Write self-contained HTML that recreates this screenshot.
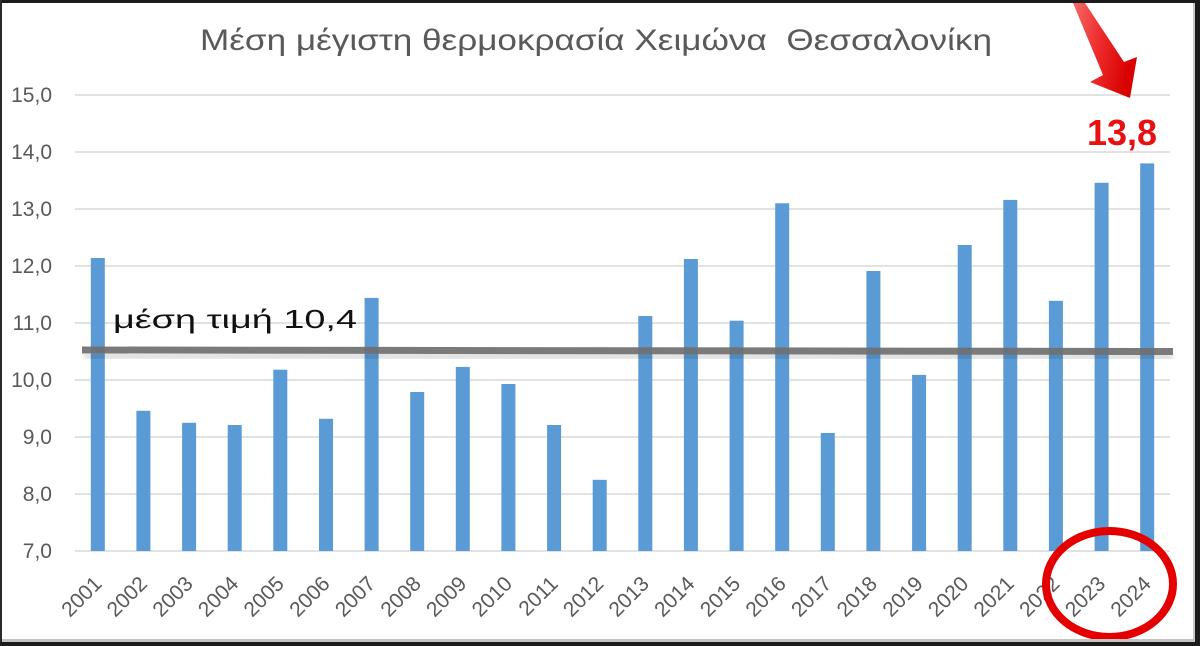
<!DOCTYPE html>
<html>
<head>
<meta charset="utf-8">
<style>
html,body{margin:0;padding:0;background:#fff;}
svg{display:block;}
text{font-family:"Liberation Sans","DejaVu Sans",sans-serif;}
</style>
</head>
<body>
<svg width="1200" height="646" viewBox="0 0 1200 646" xmlns="http://www.w3.org/2000/svg">
<defs>
<linearGradient id="ag" x1="0" y1="0" x2="1" y2="0.3">
<stop offset="0" stop-color="#f46a6a"/>
<stop offset="0.5" stop-color="#ee2a2a"/>
<stop offset="1" stop-color="#d80000"/>
</linearGradient>
<filter id="sh" x="-5%" y="-200%" width="110%" height="500%">
<feGaussianBlur stdDeviation="3"/>
</filter>
</defs>
<rect x="0" y="0" width="1200" height="646" fill="#fff"/>
<!-- gridlines -->
<g stroke="#d9d9d9" stroke-width="1.6">
<line x1="75" y1="95" x2="1170" y2="95"/>
<line x1="75" y1="152" x2="1170" y2="152"/>
<line x1="75" y1="209" x2="1170" y2="209"/>
<line x1="75" y1="266" x2="1170" y2="266"/>
<line x1="75" y1="323" x2="1170" y2="323"/>
<line x1="75" y1="380" x2="1170" y2="380"/>
<line x1="75" y1="437" x2="1170" y2="437"/>
<line x1="75" y1="494" x2="1170" y2="494"/>
<line x1="75" y1="551" x2="1170" y2="551"/>
</g>
<!-- y labels -->
<g fill="#595959" font-size="21" text-anchor="end">
<text x="52" y="102">15,0</text>
<text x="52" y="159">14,0</text>
<text x="52" y="216">13,0</text>
<text x="52" y="273">12,0</text>
<text x="52" y="330">11,0</text>
<text x="52" y="387">10,0</text>
<text x="52" y="444">9,0</text>
<text x="52" y="501">8,0</text>
<text x="52" y="558">7,0</text>
</g>
<!-- bars -->
<g fill="#5b9bd5">
<rect x="90.8" y="258" width="14" height="293"/>
<rect x="136.4" y="410.8" width="14" height="140.2"/>
<rect x="182.1" y="422.8" width="14" height="128.2"/>
<rect x="227.7" y="425" width="14" height="126"/>
<rect x="273.3" y="369.7" width="14" height="181.3"/>
<rect x="319.0" y="418.8" width="14" height="132.2"/>
<rect x="364.6" y="297.9" width="14" height="253.1"/>
<rect x="410.2" y="392" width="14" height="159"/>
<rect x="455.8" y="366.9" width="14" height="184.1"/>
<rect x="501.4" y="384" width="14" height="167"/>
<rect x="547.1" y="425" width="14" height="126"/>
<rect x="592.7" y="479.8" width="14" height="71.2"/>
<rect x="638.3" y="316" width="14" height="235"/>
<rect x="683.9" y="259" width="14" height="292"/>
<rect x="729.6" y="320.7" width="14" height="230.3"/>
<rect x="775.2" y="203.3" width="14" height="347.7"/>
<rect x="820.8" y="433" width="14" height="118"/>
<rect x="866.4" y="271" width="14" height="280"/>
<rect x="912.1" y="374.9" width="14" height="176.1"/>
<rect x="957.7" y="245" width="14" height="306"/>
<rect x="1003.3" y="199.9" width="14" height="351.1"/>
<rect x="1048.9" y="300.8" width="14" height="250.2"/>
<rect x="1094.6" y="182.8" width="14" height="368.2"/>
<rect x="1140.2" y="163.4" width="14" height="387.6"/>
</g>
<!-- x labels -->
<g fill="#595959" font-size="21" text-anchor="end">
<text transform="translate(103,585) rotate(-45)">2001</text>
<text transform="translate(148.4,585) rotate(-45)">2002</text>
<text transform="translate(194.1,585) rotate(-45)">2003</text>
<text transform="translate(239.7,585) rotate(-45)">2004</text>
<text transform="translate(285.3,585) rotate(-45)">2005</text>
<text transform="translate(331,585) rotate(-45)">2006</text>
<text transform="translate(376.6,585) rotate(-45)">2007</text>
<text transform="translate(422.2,585) rotate(-45)">2008</text>
<text transform="translate(467.8,585) rotate(-45)">2009</text>
<text transform="translate(513.4,585) rotate(-45)">2010</text>
<text transform="translate(559.1,585) rotate(-45)">2011</text>
<text transform="translate(604.7,585) rotate(-45)">2012</text>
<text transform="translate(650.3,585) rotate(-45)">2013</text>
<text transform="translate(695.9,585) rotate(-45)">2014</text>
<text transform="translate(741.6,585) rotate(-45)">2015</text>
<text transform="translate(787.2,585) rotate(-45)">2016</text>
<text transform="translate(832.8,585) rotate(-45)">2017</text>
<text transform="translate(878.4,585) rotate(-45)">2018</text>
<text transform="translate(924.1,585) rotate(-45)">2019</text>
<text transform="translate(969.7,585) rotate(-45)">2020</text>
<text transform="translate(1015.3,585) rotate(-45)">2021</text>
<text transform="translate(1060.9,585) rotate(-45)">2022</text>
<text transform="translate(1106.6,585) rotate(-45)">2023</text>
<text transform="translate(1152.2,585) rotate(-45)">2024</text>
</g>
<!-- average line -->
<line x1="84" y1="356" x2="1173" y2="357" stroke="#000" stroke-opacity="0.18" stroke-width="5" filter="url(#sh)"/>
<line x1="82" y1="350" x2="1173" y2="351.5" stroke="#6f6f6f" stroke-width="7" stroke-opacity="0.92"/>
<text x="113" y="328" font-size="26" fill="#111" textLength="244" lengthAdjust="spacingAndGlyphs">μέση τιμή 10,4</text>
<!-- title -->
<text x="200" y="50" font-size="30" fill="#595959" textLength="792" lengthAdjust="spacingAndGlyphs" style="white-space:pre">Μέση μέγιστη θερμοκρασία Χειμώνα  Θεσσαλονίκη</text>
<!-- red value -->
<text x="1087" y="145" font-size="36" font-weight="bold" fill="#e81010" textLength="70" lengthAdjust="spacingAndGlyphs">13,8</text>
<!-- arrow -->
<polygon points="1073,3 1085,3 1124,62 1137,57 1130,98 1090,82 1103,75" fill="url(#ag)"/>
<!-- circle -->
<ellipse cx="1109.5" cy="584" rx="63.5" ry="53" fill="none" stroke="#e50000" stroke-width="8"/>
<!-- frame -->
<rect x="0" y="0" width="1200" height="3" fill="#1b1b1b"/>
<rect x="0" y="0" width="2" height="646" fill="#2a2a2a"/>
<rect x="1195" y="0" width="5" height="646" fill="#1b1b1b"/>
<rect x="1193" y="3" width="2" height="639" fill="#c8c8c8"/>
<rect x="2" y="639" width="1193" height="3" fill="#c4c4c4"/>
<rect x="0" y="642" width="1200" height="4" fill="#1b1b1b"/>
</svg>
</body>
</html>
